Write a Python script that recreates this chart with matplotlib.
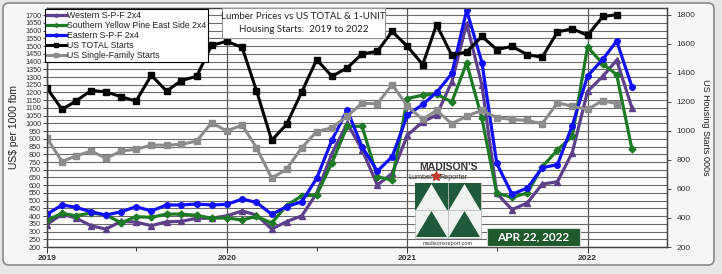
import numpy as np
import pandas as pd
import matplotlib
matplotlib.use("Agg")
import matplotlib.pyplot as plt
import matplotlib.dates as mdates
from matplotlib.patches import Rectangle, Polygon, FancyBboxPatch

plt.rcParams['font.family'] = ['Liberation Sans', 'DejaVu Sans']

# lumber prices, US$ per 1000 fbm, Jan 2019 - Apr 2022
lumber_months = pd.date_range('2019-01-01', periods=40, freq='MS')
western_spf = [345, 412, 388, 337, 316, 366, 361, 338, 363, 366, 386, 386,
               402, 433, 407, 316, 364, 402, 547, 805, 1000, 830, 601, 676,
               924, 1010, 1054, 1269, 1646, 1247, 547, 442, 485, 607, 622, 811,
               1207, 1305, 1409, 1100]
syp_east = [372, 418, 402, 420, 407, 357, 396, 392, 413, 413, 405, 386,
            388, 375, 398, 355, 468, 531, 536, 745, 980, 982, 655, 633,
            1161, 1183, 1189, 1139, 1392, 1032, 547, 522, 549, 719, 827, 918,
            1495, 1385, 1315, 833]
eastern_spf = [411, 472, 457, 428, 407, 428, 461, 433, 472, 472, 478, 472,
               476, 510, 489, 411, 461, 493, 644, 892, 1086, 849, 691, 784,
               1054, 1123, 1200, 1323, 1732, 1394, 741, 541, 582, 713, 733, 985,
               1307, 1415, 1533, 1237]

# housing starts, 000s, Jan 2019 - Mar 2022
starts_months = pd.date_range('2019-01-01', periods=39, freq='MS')
total_starts = [1297, 1148, 1205, 1278, 1269, 1235, 1205, 1383, 1274, 1347, 1376, 1589,
                1617, 1575, 1278, 935, 1045, 1269, 1491, 1376, 1434, 1530, 1548, 1685,
                1582, 1457, 1731, 1520, 1544, 1651, 1560, 1582, 1525, 1507, 1681, 1704,
                1658, 1788, 1800]
single_family = [953, 789, 827, 861, 811, 861, 873, 902, 902, 907, 930, 1056,
                 999, 1040, 885, 674, 736, 885, 994, 1022, 1102, 1190, 1187, 1319,
                 1170, 1079, 1141, 1049, 1102, 1141, 1091, 1079, 1072, 1049, 1193, 1170,
                 1148, 1209, 1187]

W, H = 722, 274
fig = plt.figure(figsize=(W / 100, H / 100), dpi=100)
fig.patch.set_facecolor('#e6e6e6')

# rounded chart frame, drawn in a background axes
bg = fig.add_axes([0, 0, 1, 1], zorder=-10)
bg.set_xlim(0, W)
bg.set_ylim(H, 0)
bg.axis('off')
bg.add_patch(FancyBboxPatch((3, 3), 711, 262, boxstyle='round,pad=0,rounding_size=6',
                            facecolor='#f6f6f6', edgecolor='#8a8a8a', linewidth=1.2))

ax = fig.add_axes([46.7 / W, 27 / H, 620.3 / W, 239.5 / H])
ax.set_facecolor('white')
ax2 = ax.twinx()

kw = dict(linewidth=2.3, markersize=4)
l1, = ax.plot(lumber_months, western_spf, color='#5e3f8a', marker='^', label='Western S-P-F 2x4', **kw)
l2, = ax.plot(lumber_months, syp_east, color='#1d7a25', marker='D', label='Southern Yellow Pine East Side 2x4',
              linewidth=2.3, markersize=3.5)
l3, = ax.plot(lumber_months, eastern_spf, color='#1010ff', marker='o', label='Eastern S-P-F 2x4', **kw)
l4, = ax2.plot(starts_months, total_starts, color='black', marker='s', label='US TOTAL Starts',
               linewidth=2.2, markersize=4)
l5, = ax2.plot(starts_months, single_family, color='#8c8c8c', marker='s', label='US Single-Family Starts',
               linewidth=2.2, markersize=4.5)

x0 = pd.Timestamp('2019-01-01')
x1 = pd.Timestamp('2022-06-11')
ax.set_xlim(x0, x1)
ax.set_ylim(200, 1750)
ax2.set_ylim(200, 1850)

ax.set_yticks(np.arange(200, 1701, 50))
ax.tick_params(axis='y', labelsize=5.2, length=3, width=0.6, pad=1, colors='#333333')
ax.yaxis.grid(True, color='#6a6a6a', linewidth=0.8)
ax.set_axisbelow(True)

ax.xaxis.set_major_locator(mdates.YearLocator())
ax.xaxis.set_major_formatter(mdates.DateFormatter('%Y'))
ax.xaxis.set_minor_locator(mdates.MonthLocator(bymonth=7))
ax.tick_params(axis='x', which='major', labelsize=6, length=4, width=0.7, colors='#333333', pad=2)
ax.tick_params(axis='x', which='minor', length=3, width=0.7, color='#333333')
for lbl in ax.get_xticklabels():
    lbl.set_fontweight('bold')
ax.xaxis.grid(True, which='major', color='#555555', linewidth=0.9)

ax2.set_yticks(np.arange(200, 1801, 200))
ax2.tick_params(axis='y', labelsize=6, length=3, width=0.6, pad=4, colors='#333333')

for a in (ax, ax2):
    for s in a.spines.values():
        s.set_color('#444444')
        s.set_linewidth(0.9)

ax.set_ylabel('US$ per 1000 fbm', fontsize=7.5, color='#222222', labelpad=4)
ax2.set_ylabel('US Housing Starts 000s', fontsize=6.5, color='#222222', rotation=270, labelpad=10)

leg = ax2.legend(handles=[l1, l2, l3, l4, l5], loc='upper left',
                 bbox_to_anchor=(45 / W, 1 - 9 / H), bbox_transform=fig.transFigure,
                 fontsize=6.3, frameon=True, fancybox=False, edgecolor='black', framealpha=1,
                 borderaxespad=0, borderpad=0.2, labelspacing=0.12, handlelength=2.2,
                 handletextpad=0.15, markerscale=0.55)
leg.get_frame().set_linewidth(0.8)
for t in leg.get_texts():
    t.set_color('#222222')

# overlay in pixel coordinates for title box, logo and date tag
ov = fig.add_axes([0, 0, 1, 1], zorder=10)
ov.set_xlim(0, W)
ov.set_ylim(H, 0)
ov.axis('off')
ov.patch.set_alpha(0)

ov.add_patch(Rectangle((222, 8), 163, 30, facecolor='white', edgecolor='#999999', linewidth=0.8))
ov.text(303.5, 23, 'Lumber Prices vs US TOTAL & 1-UNIT\nHousing Starts:  2019 to 2022',
        ha='center', va='center', fontsize=7, family=['Lato', 'DejaVu Sans'],
        color='#222222', linespacing=1.45)

# Madison's logo
ov.text(449, 167.5, "MADISON'S", ha='center', va='center', fontsize=7.5, fontweight='bold',
        color='#3a3a3a', family=['Liberation Sans'])
ov.text(433, 177.5, 'Lumber', ha='right', va='center', fontsize=5.2, color='#333333')
ov.text(439, 177.5, 'Reporter', ha='left', va='center', fontsize=5.2, color='#333333')
ov.plot([436], [176], marker='*', color='#c0392b', markersize=7)
dg = '#1f5a3a'
lt = '#eef3ee'
bx0, bx1, by0, bym, by1 = 415, 481, 183, 210, 238
ov.add_patch(Rectangle((bx0, by0), bx1 - bx0, by1 - by0, facecolor=lt, edgecolor='#bbbbbb', linewidth=0.6))
half = (bx1 - bx0) / 2
for i in range(2):
    a = bx0 + i * half
    b = a + half
    m = (a + b) / 2
    ov.add_patch(Rectangle((a, by0), half, bym - by0, facecolor=dg, edgecolor='none'))
    ov.add_patch(Polygon([(a + 1, bym), (m, by0 + 1), (b - 1, bym)], facecolor=lt, edgecolor='none'))
    ov.add_patch(Polygon([(a + 1, by1 - 1), (m, bym + 1), (b - 1, by1 - 1)], facecolor=dg, edgecolor='none'))
ov.plot([bx0, bx1], [bym, bym], color='#bbbbbb', linewidth=0.6)
ov.plot([bx0 + half, bx0 + half], [by0, by1], color='#bbbbbb', linewidth=0.6)
ov.text(448, 243.5, 'madisonsreport.com', ha='center', va='center', fontsize=4, color='#333333')

ov.add_patch(Rectangle((487, 228), 93, 18, facecolor='#1e5a2c', edgecolor='#cfd8cf', linewidth=0.8))
ov.text(533.5, 237, 'APR 22, 2022', ha='center', va='center', fontsize=8.5, fontweight='bold',
        color='white', family=['Lato', 'DejaVu Sans'])

fig.savefig('out.png', dpi=100, facecolor=fig.get_facecolor())
